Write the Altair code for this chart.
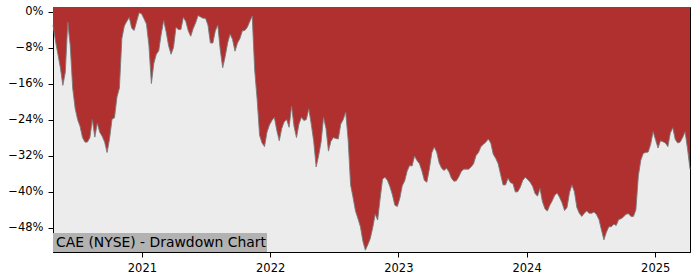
import altair as alt
import pandas as pd

# ---- data (weekly drawdown, %) ----
start_date = "2020-04-23"
drawdown = [
    -3.0, -6.5, -9.5, -12.5, -16.4, -13.5, -2.4, -7.5, -17.0, -21.5,
    -24.0, -25.5, -28.0, -29.0, -29.0, -28.0, -24.0, -27.9, -24.8, -26.8,
    -27.7, -29.0, -31.3, -28.2, -23.9, -23.6, -19.0, -17.0, -6.0, -3.2,
    -2.2, -1.3, -3.7, -4.2, -2.2, -0.3, -0.5, -1.6, -2.8, -7.5,
    -16.0, -11.5, -9.5, -8.7, -5.0, -2.0, -4.5, -7.6, -9.5, -8.0,
    -3.5, -4.0, -4.0, -1.3, -2.2, -4.3, -5.5, -3.8, -2.5, -0.9,
    -1.2, -1.5, -1.5, -3.0, -7.0, -7.0, -4.3, -3.0, -8.5, -12.5,
    -10.0, -7.0, -5.0, -6.2, -8.8, -7.0, -6.0, -4.3, -4.2, -3.5,
    -2.2, -1.0, -13.0, -19.5, -27.5, -29.2, -30.0, -26.8, -25.2, -24.2,
    -23.5, -26.4, -28.7, -26.0, -24.5, -24.0, -25.7, -21.0, -25.5, -28.0,
    -25.0, -23.5, -24.2, -24.0, -21.6, -25.0, -28.8, -34.5, -32.0, -29.0,
    -23.5, -26.0, -31.0, -28.8, -28.0, -28.2, -28.3, -25.0, -24.0, -22.3,
    -28.5, -38.5, -41.3, -44.3, -46.0, -47.8, -51.0, -53.0, -51.8, -50.4,
    -48.0, -45.0, -46.3, -41.6, -37.2, -36.8, -37.5, -38.9, -40.7, -43.0,
    -43.3, -41.5, -38.7, -37.6, -35.4, -34.2, -34.3, -32.1, -33.1, -33.8,
    -35.4, -37.5, -37.9, -35.0, -31.4, -30.1, -31.2, -33.6, -34.8, -35.3,
    -34.8, -35.6, -37.0, -37.7, -37.6, -36.7, -35.5, -35.0, -35.0, -35.0,
    -34.5, -33.8, -32.0, -31.3, -30.0, -29.5, -29.0, -28.3, -29.2, -31.7,
    -32.6, -33.8, -36.2, -38.5, -38.5, -37.0, -38.0, -38.2, -40.1, -40.0,
    -39.0, -37.5, -36.8, -37.3, -37.9, -38.8, -40.4, -41.0, -39.3, -42.2,
    -43.8, -44.3, -43.0, -42.0, -40.8, -40.3, -41.3, -42.5, -44.2, -43.5,
    -40.2, -38.5, -40.0, -43.5, -44.8, -45.5, -44.8, -44.3, -44.8, -44.8,
    -44.5, -45.1, -46.2, -48.5, -50.7, -49.0, -47.8, -47.8, -47.2, -47.5,
    -46.2, -46.0, -45.6, -45.0, -44.9, -45.5, -45.5, -44.0, -36.5, -33.0,
    -31.5, -31.3, -31.2, -29.5, -26.7, -28.5, -30.3, -28.7, -28.9, -29.2,
    -30.0, -27.0, -25.8, -28.4, -29.2, -29.0, -28.0, -26.7, -30.5, -35.0,
]
dates = pd.date_range(start_date, periods=len(drawdown), freq="7D").strftime("%Y-%m-%d")

y_ticks = [0, -8, -16, -24, -32, -40, -48]
x_tick_years = [2021, 2022, 2023, 2024, 2025]
y_domain = [-53.4, 1.0]
title_text = "CAE (NYSE) - Drawdown Chart"

df = pd.DataFrame({"date": list(dates), "dd": drawdown})

FONT = "DejaVu Sans"

x_enc = alt.X(
    "date:T",
    scale=alt.Scale(type="utc", nice=False),
    axis=alt.Axis(
        values=[alt.DateTime(year=y, month=1, date=1, utc=True) for y in x_tick_years],
        format="%Y",
        title=None,
        labelPadding=5,
    ),
)
y_enc = alt.Y(
    "dd:Q",
    stack=None,
    scale=alt.Scale(domain=y_domain, nice=False, zero=False),
    axis=alt.Axis(
        values=y_ticks,
        labelExpr="replace(format(datum.value, 'd'), '-', '\u2212') + '%'",
        title=None,
        labelPadding=5,
    ),
)

area = alt.Chart(df).mark_area(color="#b03030", interpolate="linear").encode(
    x=x_enc, y=y_enc, y2=alt.value(0)
)
line = alt.Chart(df).mark_line(color="#7a7a7a", strokeWidth=1, opacity=0.9).encode(
    x=x_enc, y=y_enc
)

box = alt.Chart(alt.Data(values=[{"t": title_text}])).mark_rect(color="#b2b2b2").encode(
    x=alt.value(0), x2=alt.value(214), y=alt.value(226), y2=alt.value(245)
)
label = alt.Chart(alt.Data(values=[{"t": title_text}])).mark_text(
    align="left", baseline="alphabetic", font=FONT, fontSize=13.9, color="black"
).encode(x=alt.value(3), y=alt.value(240), text="t:N")

chart = (
    alt.layer(area, line, box, label)
    .properties(
        width=637,
        height=245,
        autosize=alt.AutoSizeParams(type="none"),
        padding={"left": 53, "top": 7, "right": 10, "bottom": 28},
        background="white",
    )
    .configure_view(fill="#ececec", stroke="black", strokeWidth=1)
    .configure_axis(
        grid=False,
        domainColor="black",
        domainWidth=1,
        tickColor="black",
        tickSize=5,
        tickWidth=1,
        labelColor="black",
        labelFont=FONT,
        labelFontSize=11.5,
    )
)

chart.save("out.html", embed_options={"renderer": "svg", "actions": False})
